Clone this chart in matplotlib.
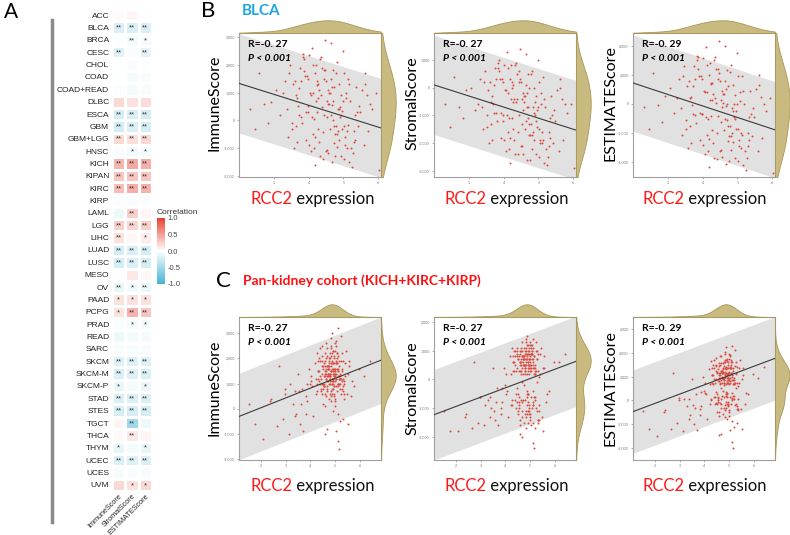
import numpy as np
import matplotlib
matplotlib.use('Agg')
import matplotlib.pyplot as plt
from matplotlib.colors import LinearSegmentedColormap
from matplotlib.lines import Line2D

plt.rcParams['font.family'] = ['Lato', 'DejaVu Sans']

# ---- panel A: correlation of RCC2 with the ESTIMATE scores
cancers = ['ACC', 'BLCA', 'BRCA', 'CESC', 'CHOL', 'COAD', 'COAD+READ', 'DLBC', 'ESCA', 'GBM',
           'GBM+LGG', 'HNSC', 'KICH', 'KIPAN', 'KIRC', 'KIRP', 'LAML', 'LGG', 'LIHC', 'LUAD',
           'LUSC', 'MESO', 'OV', 'PAAD', 'PCPG', 'PRAD', 'READ', 'SARC', 'SKCM', 'SKCM-M',
           'SKCM-P', 'STAD', 'STES', 'TGCT', 'THCA', 'THYM', 'UCEC', 'UCES', 'UVM']
score_names = ['ImmuneScore', 'StromalScore', 'ESTIMATEScore']

immune_corr = [0.02, -0.2, -0.02, -0.18, -0.01, -0.01, -0.02, 0.2, -0.22, -0.24,
               0.2, -0.04, 0.38, 0.3, 0.35, -0.03, -0.1, 0.25, 0.15, -0.22,
               -0.22, 0.0, -0.12, 0.15, 0.15, -0.03, -0.1, -0.04, -0.18, -0.2,
               -0.12, -0.2, -0.22, 0.05, 0.03, -0.12, -0.2, -0.05, 0.2]
stromal_corr = [0.05, -0.2, -0.07, -0.03, -0.03, -0.06, -0.06, 0.15, -0.2, -0.2,
                0.17, -0.08, 0.45, 0.3, 0.42, -0.03, 0.25, 0.22, 0.04, -0.2,
                -0.2, 0.12, -0.08, 0.15, 0.4, -0.06, -0.06, -0.04, -0.18, -0.18,
                -0.06, -0.2, -0.22, -0.5, 0.12, -0.06, -0.18, -0.03, 0.15]
estimate_corr = [0.01, -0.2, -0.05, -0.15, -0.02, -0.04, -0.04, 0.18, -0.22, -0.22,
                 0.2, -0.07, 0.42, 0.3, 0.4, -0.03, 0.05, 0.25, 0.1, -0.22,
                 -0.22, 0.04, -0.1, 0.15, 0.3, -0.06, -0.06, -0.04, -0.18, -0.2,
                 -0.12, -0.2, -0.22, -0.1, 0.05, -0.12, -0.2, -0.05, 0.2]

immune_stars = ['', '**', '', '**', '', '', '', '', '**', '**', '**', '', '**', '**', '**', '', '',
                '**', '**', '**', '**', '', '**', '*', '*', '', '', '', '**', '**', '*', '**',
                '**', '', '', '*', '**', '', '']
stromal_stars = ['', '**', '**', '', '', '', '', '', '**', '**', '**', '*', '**', '**', '**', '',
                 '**', '**', '', '**', '**', '', '*', '*', '**', '*', '', '', '**', '**', '',
                 '**', '**', '**', '**', '', '**', '', '*']
estimate_stars = ['', '**', '*', '**', '', '', '', '', '**', '**', '**', '*', '**', '**', '**', '',
                  '', '**', '*', '**', '**', '', '**', '*', '**', '*', '', '', '**', '**', '*',
                  '**', '**', '', '', '*', '**', '', '*']

# ---- panel B: BLCA samples
blca_rcc2 = [4.23, 4.61, 3.87, 5.12, 4.38, 3.64, 4.79, 5.43, 4.06, 4.72,
             3.31, 4.52, 4.97, 4.27, 3.78, 4.91, 5.58, 4.02, 4.64, 2.57,
             4.41, 5.19, 3.72, 4.83, 4.16, 5.94, 4.47, 3.53, 5.04, 4.11,
             4.68, 3.92, 5.27, 4.56, 2.93, 4.34, 5.08, 3.98, 4.81, 3.61,
             5.47, 4.19, 4.88, 3.42, 4.54, 5.71, 4.13, 4.74, 3.83, 5.02,
             4.29, 2.31, 4.63, 5.22, 3.89, 4.44, 4.77, 5.36, 3.69, 4.24,
             4.93, 6.02, 4.49, 3.18, 5.14, 4.01, 4.58, 4.32, 5.83, 3.81,
             4.71, 4.09, 5.31, 3.47, 4.42, 4.86, 2.82, 4.99, 4.21, 4.66,
             3.58, 5.52, 4.84, 4.04, 4.51, 5.17, 3.93, 4.28, 5.68, 4.69,
             4.14, 3.07, 4.92, 5.06, 4.36, 3.76, 5.33, 4.59, 2.46, 4.18,
             4.78, 5.63, 3.97, 4.48, 3.38, 5.11, 4.26, 4.73, 3.66, 4.89,
             4.35, 4.82, 3.95, 5.15, 4.55, 3.73, 4.98, 5.29, 4.12, 4.62,
             3.52, 4.45, 5.05, 4.25, 3.85, 4.95, 5.45, 4.08, 4.68, 2.72,
             4.39, 5.24, 3.68, 4.87, 4.17, 5.62, 4.53, 3.44, 5.01, 4.31,
             4.76, 3.88, 5.38, 4.57, 3.25, 4.43, 5.09, 3.99, 4.85, 3.63,
             5.34, 4.22, 4.94, 3.56, 4.64, 5.77, 4.15, 4.71, 3.79, 5.03]
blca_immune = [1260, -300, 1780, -190, 480, -200, 1720, -210, 900, -840,
               1420, -1060, 350, 1320, 120, 480, -890, 2340, 200, 1700,
               -420, 700, 1150, -980, 60, 980, 1800, -300, -600, 2600,
               560, -700, -1200, 1100, 650, -1300, 800, 300, 2100, 1400,
               300, -1600, 1300, -600, 700, -400, 1000, -200, 2300, 1700,
               -800, 400, 2800, -1000, 1600, 200, -500, 1200, 500, 1400,
               900, -1800, -1100, 200, 1500, -900, 600, 2200, 400, -100,
               1800, 100, -400, 2000, -1400, -700, -100, 2500, 700, -1500,
               -1000, 1100, 400, 1000, 1400, -1500, 300, -300, 900, 0,
               -500, 1100, -1300, 1000, 2300, 1900, 200, 1000, -300, 1700,
               -200, 1700, 1500, 2900, 400, -400, 800, 1200, -800, 100,
               900, -500, 1600, 1300, -1200, 200, 700, -800, 2000, 1000,
               -100, 1500, -900, 300, 2400, -300, 500, -1100, 1200, 600,
               1900, -1700, 800, 400, -600, 1300, 100, 1700, -200, 1100,
               -1300, 2200, 300, 600, 1000, 1800, -1000, 500, -400, 900,
               -700, 2000, 200, 1300, 1500, 600, -1000, 700, 1400, -1400]
blca_stromal = [200, -1500, 600, -1900, -400, -1300, 500, -2000, -100, -1700,
                300, -2100, -800, 100, -900, -500, -2300, 800, -1200, 400,
                -1600, -700, 100, -2200, -1100, -600, 300, -1400, -1900, 1300,
                -700, -1800, -2500, -200, -100, -2400, -600, -1000, 600, 200,
                -1200, -2700, 0, -1500, -400, -1900, -200, -1300, 700, 200,
                -1900, -600, 1200, -2200, 300, -1000, -1700, -300, -600, 0,
                -300, -2900, -2100, -800, 400, -1900, -500, 800, -900, -1200,
                500, -1000, -1600, 600, -2400, -1900, -1100, 1000, -400, -2600,
                -2000, -100, -700, -100, 200, -2700, -900, -1500, -400, -1100,
                -1600, 0, -2400, -200, 900, 700, -1100, -300, -1400, 300,
                -1300, 300, 200, 1400, -700, -1600, -500, 0, -1900, -1000,
                -500, -1700, 300, -400, -2400, -900, -700, -2100, 700, -300,
                -1000, 200, -2000, -1100, 900, -1400, -800, -2300, -200, -700,
                500, -2800, -300, -900, -1800, 0, -1300, 200, -1500, -400,
                -2600, 1000, -1000, -800, -600, 600, -2000, -1200, -1600, -500,
                -1800, 800, -1200, -100, 100, -600, -2200, -700, 300, -2500]
blca_estimate = [1460, -1800, 2380, -2090, 80, -1500, 2220, -2210, 800, -2540,
                 1720, -3160, -450, 1420, -780, -20, -3190, 3140, -1000, 2100,
                 -2020, 0, 1250, -3180, -1040, 380, 2100, -1700, -2500, 3900,
                 -140, -2500, -3700, 900, 550, -3700, 200, -700, 2700, 1600,
                 -900, -4300, 1300, -2100, 300, -2300, 800, -1500, 3000, 1900,
                 -2700, -200, 4000, -3200, 1900, -800, -2200, 900, -100, 1400,
                 600, -4700, -3200, -600, 1900, -2800, 100, 3000, -500, -1300,
                 2300, -900, -2000, 2600, -3800, -2600, -1200, 3500, 300, -4100,
                 -3000, 1000, -300, 900, 1600, -4200, -600, -1800, 500, -1100,
                 -2100, 1100, -3700, 800, 3200, 2600, -900, 700, -1700, 2000,
                 -1500, 2000, 1700, 4300, -300, -2000, 300, 1200, -2700, -900,
                 400, -2200, 1900, 900, -3600, -700, 0, -2900, 2700, 700,
                 -1100, 1700, -2900, -800, 3300, -1700, -300, -3400, 1000, -100,
                 2400, -4500, 500, -500, -2400, 1300, -1200, 1900, -1700, 700,
                 -3900, 3200, -700, -200, 400, 2400, -3000, -700, -2000, 400,
                 -2500, 2800, -1000, 1200, 1600, 0, -3200, 0, 1700, -3900]

# ---- panel C: pan-kidney cohort samples
kidney_rcc2 = [4.83, 5.12, 4.47, 4.91, 5.34, 4.58, 3.86, 5.03, 4.69, 5.21,
               4.36, 5.48, 4.77, 3.41, 4.98, 4.88, 4.62, 5.14, 2.63, 4.73,
               5.27, 4.52, 4.94, 5.06, 4.18, 4.81, 5.57, 3.68, 4.64, 5.09,
               4.87, 4.29, 5.23, 4.71, 1.76, 5.01, 4.79, 4.12, 5.38, 4.56,
               4.97, 4.84, 3.17, 4.92, 5.13, 4.49, 5.66, 4.74, 4.41, 5.19,
               4.61, 5.31, 4.76, 3.93, 5.04, 4.89, 2.34, 5.11, 4.67, 4.53,
               5.24, 4.82, 4.27, 4.99, 6.18, 4.59, 4.93, 3.57, 5.08, 4.72,
               4.39, 5.02, 4.78, 5.29, 2.98, 4.86, 4.63, 5.16, 3.97, 5.46,
               4.68, 4.91, 5.18, 2.87, 4.84, 5.05, 4.51, 5.36, 4.22, 4.57,
               5.07, 4.76, 3.48, 4.94, 5.01, 4.66, 5.79, 4.31, 5.22, 1.52,
               4.62, 4.97, 4.81, 4.43, 5.12, 3.82, 4.88, 5.27, 4.71, 2.08,
               5.03, 4.46, 4.92, 5.17, 3.29, 4.79, 4.58, 5.09, 5.98, 4.02,
               4.85, 5.41, 4.69, 4.95, 2.72, 5.02, 4.33, 5.21, 4.61, 3.71,
               4.90, 5.14, 4.48, 4.83, 5.59, 4.07, 4.99, 4.74, 3.12, 5.32,
               4.64, 4.87, 5.04, 2.41, 4.77, 5.19, 4.37, 3.88, 5.11, 4.69,
               4.96, 4.81, 4.21, 5.51, 4.93, 3.38, 4.57, 5.13, 6.41, 4.47,
               4.72, 5.08, 4.55, 4.95, 5.26, 4.63, 4.86, 5.15, 4.41, 4.99,
               4.78, 5.33, 4.68, 4.91, 5.02, 4.52, 4.84, 5.21, 4.36, 4.75,
               5.11, 4.60, 4.97, 5.42, 4.28, 4.89, 5.06, 4.70, 4.83, 5.18,
               4.47, 4.93, 5.29, 4.66, 4.02, 4.81, 5.04, 4.58, 4.88, 5.37,
               3.62, 4.76, 5.13, 4.94, 4.49, 5.22, 4.85, 4.64, 5.01, 3.36,
               4.73, 4.98, 5.17, 4.42, 4.87, 5.09, 4.56, 4.79, 5.31, 2.95,
               4.69, 5.05, 4.84, 4.38, 4.96, 5.24, 4.61, 4.91, 5.53, 3.84,
               4.77, 5.12, 4.50, 4.86, 5.03, 4.67, 4.93, 5.20, 4.32, 4.80,
               5.00, 4.59, 4.90, 5.27, 4.44, 4.82, 5.14, 4.71, 4.97, 5.71,
               4.54, 4.85, 5.07, 4.65, 4.92, 5.35, 4.78, 5.02, 4.26, 3.55]
kidney_immune = [1500, 900, 2100, 1200, -400, 1700, 300, 2500, 800, 1400,
                 1100, 600, 1900, -200, 1300, 3000, 500, 1000, -700, 1600,
                 2200, 200, 1400, -900, 1800, 1200, 1700, 800, 2600, 700,
                 1000, 1500, 2900, 1300, -600, 400, 2000, -300, 1100, 900,
                 1600, 700, 1000, 2300, -1300, 1400, 500, 1800, 2400, 1200,
                 100, 1900, 1300, 1600, 2700, 800, 300, 1500, -800, 1000,
                 600, 1700, 700, 1100, 1300, 2200, -100, -600, 2000, 1400,
                 1900, 300, 1100, 1500, 600, 1800, 1200, -1600, 1000, 2300,
                 900, 1400, 1000, -400, 2800, 1200, 1700, 400, 600, 1300,
                 1800, 1000, 1400, 500, 1600, 2100, 900, 1200, -500, 200,
                 1500, 2000, 600, 800, 1300, -200, 1900, 1100, 1600, -1200,
                 900, 2500, 1200, 1700, 200, 1400, -1000, 2200, 1600, 1300,
                 1800, 1300, 1100, 1500, 1700, 100, 1900, 1000, 1400, -900,
                 1600, -200, 1000, 2400, 1900, 900, 1300, 1700, -1000, 1200,
                 1200, 1100, 1900, 400, 1600, 800, 1500, 1000, 3200, 1300,
                 1400, 2200, 1200, -600, 1000, 700, 1800, 1500, 1900, 600,
                 1400, 1800, 900, 2100, 1200, 1600, 600, 1900, 1000, 2300,
                 1300, 700, 1700, 1100, 2600, 800, 1500, 1200, 2000, 400,
                 1600, 1300, 900, 1800, 2200, 1000, 1400, 1700, 500, 1200,
                 1900, 1500, 800, 2400, 1100, 1300, 1800, 600, 1600, 1000,
                 200, 1400, 2100, 900, 1700, 1200, 300, 2000, 1500, -300,
                 1100, 1800, 1300, 700, 2200, 1600, 1000, 1400, 900, 800,
                 1700, 1200, 2500, 1300, 600, 1900, 1500, 1100, 1400, 500,
                 2000, 1000, 1600, 1200, 1800, 700, 2300, 1300, 1500, 1000,
                 1400, 1900, 800, 1600, 1200, 2100, 1000, 1700, 1300, 1100,
                 900, 1500, 2200, 1400, 1800, 600, 1200, 1600, 1000, 700]
kidney_stromal = [700, -900, 900, 400, -1500, 600, -800, 1200, -1100, 500,
                  300, -1300, 800, -1000, 200, 1500, -700, -400, -1700, 700,
                  1000, -1200, 500, -1600, 800, 300, 400, -300, 1100, -1000,
                  -500, 600, 1300, 200, -1800, -1200, 900, -1300, 100, -600,
                  700, -1100, -900, 1000, -2200, 400, -800, 800, 1000, 300,
                  -1400, 900, 500, 400, 1100, -900, -1300, 600, -2000, -500,
                  -1000, 700, -700, 300, 600, 900, -1500, -1400, 1000, 500,
                  800, -1300, 200, 700, -600, 800, 300, -2400, -200, 1100,
                  -800, 500, -600, -1500, 1300, 400, 700, -1100, -900, 300,
                  900, -200, 400, -900, 800, 1000, -400, 300, -1700, -1100,
                  600, 1000, -1200, -500, 400, -1000, 900, -100, 700, -1800,
                  -600, 1100, 300, 800, -700, 500, -1900, 1000, 600, 200,
                  900, 200, -100, 700, 600, -1400, 800, -600, 500, -1600,
                  600, -1500, -300, 1000, 800, -400, 400, 700, -1600, 300,
                  200, -400, 900, -1200, 700, -700, 600, -300, 1400, 400,
                  500, 1000, 200, -1800, -500, -600, 800, 500, 900, -800,
                  600, 900, -900, 1100, 300, 700, -1200, 800, -700, 1200,
                  400, -1400, 800, -800, 1300, -1100, 500, 200, 1000, -1500,
                  700, 300, -1000, 900, 1100, -600, 500, 800, -1300, 200,
                  1000, 600, -1100, 1300, -500, 400, 900, -1600, 700, -900,
                  -800, 500, 1100, -1200, 800, 200, -1700, 1000, 600, -1300,
                  -700, 900, 400, -1000, 1200, 700, -800, 500, -1400, -600,
                  800, 300, 1400, 500, -1100, 1000, 600, -500, 400, -1200,
                  1100, -900, 700, 200, 900, -1300, 1200, 400, 600, -700,
                  500, 1000, -1100, 700, 300, 1100, -800, 800, 400, -500,
                  -1000, 600, 1200, 500, 900, -1400, 300, 700, -900, -1100]
kidney_estimate = [2200, 0, 3000, 1600, -1900, 2300, -500, 3700, -300, 1900,
                   1400, -700, 2700, -1200, 1500, 4500, -200, 600, -2400, 2300,
                   3200, -1000, 1900, -2500, 2600, 1500, 2100, 500, 3700, -300,
                   500, 2100, 4200, 1500, -2400, -800, 2900, -1600, 1200, 300,
                   2300, -400, 100, 3300, -3500, 1800, -300, 2600, 3400, 1500,
                   -1300, 2800, 1800, 2000, 3800, -100, -1000, 2100, -2800, 500,
                   -400, 2400, 0, 1400, 1900, 3100, -1600, -2000, 3000, 1900,
                   2700, -1000, 1300, 2200, 0, 2600, 1500, -4000, 800, 3400,
                   100, 1900, 400, -1900, 4100, 1600, 2400, -700, -300, 1600,
                   2700, 800, 1800, -400, 2400, 3100, 500, 1500, -2200, -900,
                   2100, 3000, -600, 300, 1700, -1200, 2800, 1000, 2300, -3000,
                   300, 3600, 1500, 2500, -500, 1900, -2900, 3200, 2200, 1500,
                   2700, 1500, 1000, 2200, 2300, -1300, 2700, 400, 1900, -2500,
                   2200, -1700, 700, 3400, 2700, 500, 1700, 2400, -2600, 1500,
                   1400, 700, 2800, -800, 2300, 100, 2100, 700, 4600, 1700,
                   1900, 3200, 1400, -2400, 500, 100, 2600, 2000, 2800, -200,
                   2000, 2700, 0, 3200, 1500, 2300, -600, 2700, 300, 3500,
                   1700, -700, 2500, 300, 3900, -300, 2000, 1400, 3000, -1100,
                   2300, 1600, -100, 2700, 3300, 400, 1900, 2500, -800, 1400,
                   2900, 2100, -300, 3700, 600, 1700, 2700, -1000, 2300, 100,
                   -600, 1900, 3200, -300, 2500, 1400, -1400, 3000, 2100, -1600,
                   400, 2700, 1700, -300, 3400, 2300, 200, 1900, -500, 200,
                   2500, 1500, 3900, 1800, -500, 2900, 2100, 600, 1800, -700,
                   3100, 100, 2300, 1400, 2700, -600, 3500, 1700, 2100, 300,
                   1900, 2900, -300, 2300, 1500, 3200, 200, 2500, 1700, 600,
                   -100, 2100, 3400, 1900, 2700, -800, 1500, 2300, 100, -400]

# fitted lines: value at left edge, value at right edge, band half width
blca_fits = [(1330, -280, 1790), (100, -1530, 1790), (1440, -1770, 3300)]
kidney_fits = [(-307, 1933, 1720), (-1226, 630, 1570), (-940, 3530, 3500)]
blca_r = ['R=-0. 27', 'R=-0. 27', 'R=-0. 29']
kidney_r = ['R=-0. 27', 'R=-0. 27', 'R=-0. 29']

W, H = 790, 535
DENS = '#c9ba80'


def fx(px):
    return px / W


def fy(py):
    return 1 - py / H


def kde(vals, grid):
    vals = np.asarray(vals, float)
    bw = 1.3 * 1.06 * vals.std() * len(vals) ** -0.2
    return np.exp(-0.5 * ((grid[:, None] - vals[None, :]) / bw) ** 2).sum(axis=1)


def draw_heatmap(fig):
    cmap = LinearSegmentedColormap.from_list('corr', ['#45b3d4', '#ffffff', '#e8412f'])
    vals = np.array([immune_corr, stromal_corr, estimate_corr]).T
    stars = np.array([immune_stars, stromal_stars, estimate_stars]).T
    ax = fig.add_axes([fx(112), fy(491), fx(40), 482 / H])
    mesh = ax.pcolormesh(vals, cmap=cmap, vmin=-1, vmax=1, edgecolors='white', linewidth=0.8)
    ax.set_xlim(0, 3)
    ax.set_ylim(len(cancers), 0)
    ax.set_yticks(np.arange(len(cancers)) + 0.5, cancers, fontsize=6, family='Liberation Sans', color='#222')
    ax.set_xticks(np.arange(3) + 0.5, score_names, fontsize=5.2, family='Liberation Sans',
                  rotation=45, ha='right', rotation_mode='anchor', color='#222')
    ax.tick_params(axis='y', length=0, pad=2)
    ax.tick_params(axis='x', length=0, pad=1)
    for s in ax.spines.values():
        s.set_visible(False)
    for i in range(len(cancers)):
        for j in range(3):
            if stars[i, j]:
                ax.text(j + 0.5, i + 0.55, stars[i, j], ha='center', va='center', fontsize=5.5,
                        family='Liberation Sans', color='#333')

    cax = fig.add_axes([fx(157), fy(284), fx(8), 66 / H])
    cb = fig.colorbar(mesh, cax=cax, ticks=[-1, -0.5, 0, 0.5, 1], format='%.1f')
    cb.outline.set_visible(False)
    cax.tick_params(labelsize=5.5, length=0, pad=2, colors='#444')
    for t in cax.get_yticklabels():
        t.set_family('Liberation Sans')
    fig.text(fx(157), fy(213), 'Correlation', fontsize=6, family='Liberation Sans', color='#333', va='center')

    fig.add_artist(Line2D([fx(52), fx(52)], [fy(20), fy(522)], transform=fig.transFigure,
                          color='#8a8a8a', lw=2.5))


def scatter_panel(fig, left, top, height, x, y, xlim, xticks, ylim, yticks, fit, rtext):
    w = 142
    ax = fig.add_axes([fx(left), fy(top + height), fx(w), height / H])
    xs = np.array(xlim)
    line = np.array(fit[:2])
    ax.fill_between(xs, line - fit[2], line + fit[2], color='#e1e1e1', lw=0, zorder=0)
    ax.scatter(x, y, s=2.0, color='#dc4a3d', lw=0, zorder=2)
    ax.plot(xs, line, color='#3a3a3a', lw=0.8, zorder=3)
    ax.set_xlim(xlim)
    ax.set_ylim(ylim)
    ax.set_xticks(xticks, [str(v) for v in xticks])
    ax.set_yticks(yticks, ['{:,}'.format(v) for v in yticks])
    ax.tick_params(labelsize=2.6, length=1.5, width=0.4, pad=1.5, colors='#777')
    for s in ax.spines.values():
        s.set_color('#a0a0a0')
        s.set_linewidth(0.8)
    ax.text(0.06, 0.92, rtext, transform=ax.transAxes, fontsize=7.5, fontweight='bold', va='center')
    ax.text(0.06, 0.82, 'P < 0.001', transform=ax.transAxes, fontsize=7.5, fontweight='bold',
            style='italic', va='center')

    # marginal densities
    topax = fig.add_axes([fx(left), fy(top), fx(w), 13 / H])
    gx = np.linspace(xlim[0], xlim[1], 200)
    dx = kde(x, gx)
    topax.fill_between(gx, 0, dx, color=DENS, edgecolor='#a8975a', lw=0.6)
    topax.set_xlim(xlim)
    topax.set_ylim(0, dx.max() * 1.02)
    topax.axis('off')

    rax = fig.add_axes([fx(left + w), fy(top + height), fx(15), height / H])
    gy = np.linspace(ylim[0], ylim[1], 200)
    dy = kde(y, gy)
    rax.fill_betweenx(gy, 0, dy, color=DENS, edgecolor='#a8975a', lw=0.6)
    rax.set_ylim(ylim)
    rax.set_xlim(0, dy.max() * 1.02)
    rax.axis('off')


def xlabel(fig, xpix, ypix):
    t = fig.text(fx(xpix), fy(ypix), 'RCC2', fontsize=12, color='#ff1a1a', va='center', ha='left')
    plt.annotate(' expression', xy=(1, 0), xycoords=t, fontsize=12, color='#111',
                 va='bottom', ha='left', annotation_clip=False)


def main():
    fig = plt.figure(figsize=(W / 100, H / 100), dpi=100)

    fig.text(fx(4), fy(12), 'A', fontsize=15, va='center')
    draw_heatmap(fig)

    fig.text(fx(201), fy(11), 'B', fontsize=16, va='center')
    fig.text(fx(242), fy(11), 'BLCA', fontsize=11, fontweight='bold', color='#1ea6e3', va='center')
    fig.text(fx(216), fy(281), 'C', fontsize=16, va='center')
    fig.text(fx(243), fy(281), 'Pan-kidney cohort (KICH+KIRC+KIRP)', fontsize=10, fontweight='bold',
             color='#ff1010', va='center')

    lefts = [239, 434, 633]
    ylab_x = [215, 412, 610]
    lab_x = [250, 444, 642]

    blca_y = [blca_immune, blca_stromal, blca_estimate]
    blca_ylim = [(-2050, 3150), (-3220, 1970), (-5000, 4860)]
    blca_yt = [list(range(-2000, 3001, 1000)), list(range(-3000, 1001, 1000)), list(range(-4000, 4001, 2000))]
    kid_y = [kidney_immune, kidney_stromal, kidney_estimate]
    kid_ylim = [(-2040, 3650), (-2800, 2170), (-5000, 7000)]
    kid_yt = [list(range(-2000, 3001, 1000)), list(range(-2000, 2001, 1000)), list(range(-4000, 6001, 2000))]

    for k in range(3):
        scatter_panel(fig, lefts[k], 33, 144, blca_rcc2, blca_y[k], (2, 6.08), [3, 4, 5, 6],
                      blca_ylim[k], blca_yt[k], blca_fits[k], blca_r[k])
        scatter_panel(fig, lefts[k], 317, 143, kidney_rcc2, kid_y[k], (1.1, 6.87), [2, 3, 4, 5, 6],
                      kid_ylim[k], kid_yt[k], kidney_fits[k], kidney_r[k])
        fig.text(fx(ylab_x[k]), fy(103), score_names[k], rotation=90, fontsize=11.5, ha='center', va='center')
        fig.text(fx(ylab_x[k]), fy(388), score_names[k], rotation=90, fontsize=11.5, ha='center', va='center')
        xlabel(fig, lab_x[k], 199)
        xlabel(fig, lab_x[k], 486)

    fig.savefig('out.png', dpi=100)


if __name__ == '__main__':
    main()
